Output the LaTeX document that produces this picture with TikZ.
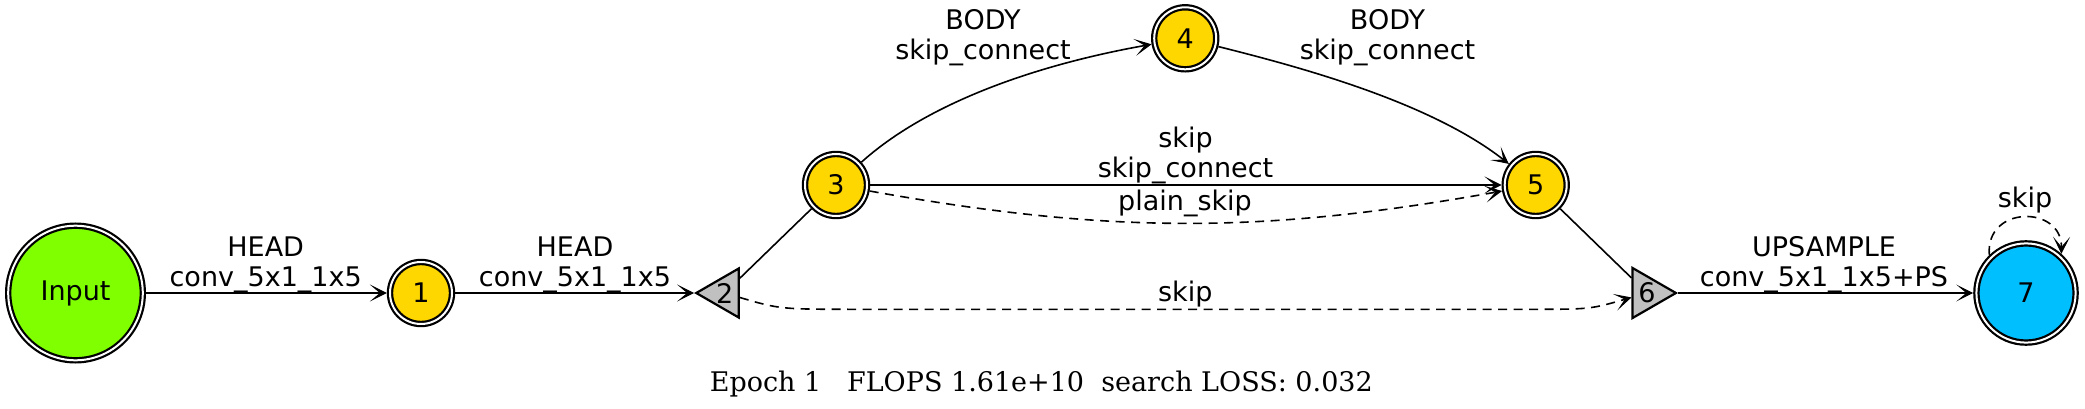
\documentclass[tikz,border=0pt]{standalone}
\usepackage{fontspec}
\setmainfont{DejaVu Sans}
\newfontfamily\capfont{DejaVu Serif}
\usetikzlibrary{arrows.meta,shapes.geometric}
\definecolor{gvgold}{HTML}{FFD700}
\definecolor{gvgreen}{HTML}{7FFF00}
\definecolor{gvblue}{HTML}{00BFFF}
\definecolor{gvgray}{HTML}{C0C0C0}
\newcommand{\twoline}[2]{\begin{tabular}[b]{@{}c@{}}#1\\#2\end{tabular}}
\begin{document}
\begin{tikzpicture}[x=1pt,y=-1pt,
  every node/.style={font=\fontsize{27}{30}\selectfont},
  dbl/.style={circle, draw=black, line width=2.2pt, double=white, double distance=2pt, inner sep=0pt, outer sep=3.2pt},
  st/.style={dbl, fill=gvgold, minimum size=62pt},
  tri/.style={regular polygon, regular polygon sides=3, draw=black, line width=2.2pt, fill=gvgray, inner sep=0pt, minimum size=54.4pt, outer sep=1.1pt},
  conn/.style={line width=1.6pt, draw=black},
  arr/.style={conn, -{Stealth[length=17pt,width=17pt,inset=10pt,line width=1pt]}},
  dsh/.style={dash pattern=on 9pt off 6.5pt},
  lbl/.style={inner sep=0pt, anchor=base},
]
\fill[white] (0,0) rectangle (2085,409);
\useasboundingbox (0,0) rectangle (2085,409);

\node[dbl, fill=gvgreen, minimum size=134.6pt] (in) at (75.5,293) {Input};
\node[st] (n1) at (421,293) {1};
\node[tri, shape border rotate=90] (n2) at (724.6,293) {2};
\node[st] (n3) at (836,185) {3};
\node[st] (n4) at (1185.2,38.3) {4};
\node[st] (n5) at (1535.7,185) {5};
\node[tri, shape border rotate=-90] (n6) at (1647,293) {6};
\node[dbl, fill=gvblue, minimum size=99.2pt] (n7) at (2026,293) {7};

\draw[arr] (in) -- (n1);
\draw[arr] (n1) -- (n2);
\draw[conn] (n2) -- (n3);
\draw[arr] (n3) .. controls (925,105) and (1030,66) .. (n4);
\draw[arr] (n4) .. controls (1300,67) and (1430,102) .. (n5);
\draw[arr] (n3) -- (n5);
\draw[arr,dsh] (n3) .. controls (1110,234) and (1262,234) .. (n5);
\draw[conn] (n5) -- (n6);
\draw[arr,dsh] (n2) .. controls (780,309.3) .. (860,309.3) -- (1530,309.3) .. controls (1590,309.3) .. (n6);
\draw[arr] (n6) -- (n7);
\draw[arr,dsh] (n7.134) .. controls (1985,205) and (2062,205) .. (n7.48);

\node[lbl] (l1) at (265.7,286) {\twoline{HEAD}{conv\_5x1\_1x5}};
\node[lbl] (l2) at (575,286) {\twoline{HEAD}{conv\_5x1\_1x5}};
\node[lbl] (l3) at (983,59.5) {\twoline{BODY}{skip\_connect}};
\node[lbl] (l4) at (1387.5,59.5) {\twoline{BODY}{skip\_connect}};
\node[lbl] (l5) at (1185.5,177) {\twoline{skip}{skip\_connect}};
\node[lbl] (l6) at (1185,210.7) {plain\_skip};
\node[lbl] (l7) at (1185.3,301.7) {skip};
\node[lbl] (l8) at (1824,286) {\twoline{UPSAMPLE}{conv\_5x1\_1x5+PS}};
\node[lbl] (l9) at (2025,207) {skip};

\node[lbl, font=\capfont\fontsize{29}{34}\selectfont] (cap) at (1041.3,391.7)
  {\resizebox{663pt}{!}{Epoch 1\ \ \ FLOPS 1.61e+10\ \ search LOSS: 0.032}};
\end{tikzpicture}
\end{document}
